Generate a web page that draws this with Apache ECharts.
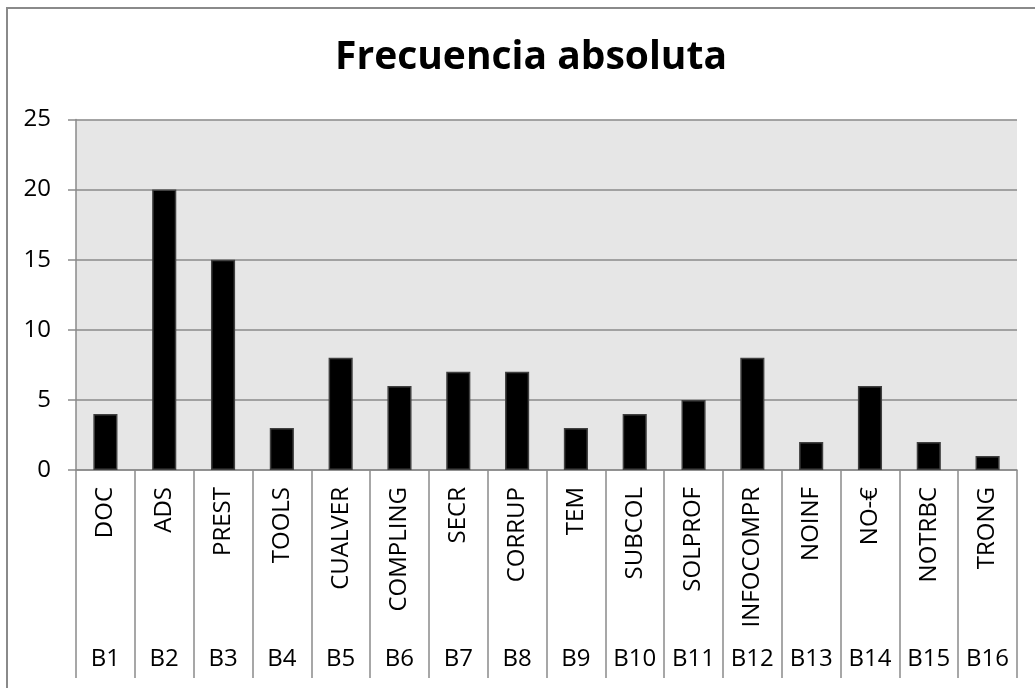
<!DOCTYPE html>
<html>
<head>
<meta charset="utf-8">
<script src="https://cdn.jsdelivr.net/npm/echarts@6/dist/echarts.min.js"></script>
<style>html,body{margin:0;padding:0;background:#fff;}#c{width:1035px;height:688px;}</style>
</head>
<body>
<div id="c"></div>
<script>
const titleText = 'Frecuencia absoluta';
const categories = ['DOC','ADS','PREST','TOOLS','CUALVER','COMPLING','SECR','CORRUP','TEM','SUBCOL','SOLPROF','INFOCOMPR','NOINF','NO-€','NOTRBC','TRONG'];
const groups = ['B1','B2','B3','B4','B5','B6','B7','B8','B9','B10','B11','B12','B13','B14','B15','B16'];
const values = [4,20,15,3,8,6,7,7,3,4,5,8,2,6,2,1];
const yTicks = { min: 0, max: 25, interval: 5 };

const FONT = 'Open Sans';
const chart = echarts.init(document.getElementById('c'), null, {renderer: 'canvas'});
chart.setOption({
  animation: false,
  backgroundColor: '#ffffff',
  textStyle: { fontFamily: FONT },
  title: {
    text: titleText, left: 526, top: 33, textAlign: 'center',
    textStyle: { fontFamily: FONT, fontWeight: 'bold', fontSize: 39, color: '#000' }
  },
  graphic: [{
    type: 'rect', silent: true, z: 100,
    shape: { x: 7, y: 8, width: 1200, height: 900 },
    style: { fill: 'none', stroke: '#8a8a8a', lineWidth: 2 }
  }],
  grid: {
    left: 76, right: 18, top: 119.5, bottom: 218,
    show: true, backgroundColor: '#E6E6E6', borderWidth: 0
  },
  xAxis: [{
    type: 'category', data: categories, position: 'bottom',
    axisLine: { show: true, lineStyle: { color: '#8a8a8a', width: 1.5 } },
    axisTick: { show: true, alignWithLabel: false, length: 208, lineStyle: { color: '#8a8a8a', width: 1.5 } },
    axisLabel: { rotate: 90, margin: 17, fontSize: 24, color: '#000', fontFamily: FONT, interval: 0 },
    splitLine: { show: false }
  }, {
    type: 'category', data: groups, position: 'bottom', offset: 169,
    axisLine: { show: false }, axisTick: { show: false },
    axisLabel: { margin: 8, fontSize: 24, color: '#000', fontFamily: FONT, interval: 0 },
    splitLine: { show: false }
  }],
  yAxis: {
    type: 'value', min: yTicks.min, max: yTicks.max, interval: yTicks.interval,
    axisLine: { show: true, lineStyle: { color: '#8a8a8a', width: 1.5 } },
    axisTick: { show: true, length: 8, lineStyle: { color: '#8a8a8a', width: 1.5 } },
    axisLabel: { margin: 25, fontSize: 24, color: '#000', fontFamily: FONT },
    splitLine: { show: true, lineStyle: { color: '#8a8a8a', width: 1.5 } }
  },
  series: [{
    type: 'bar', data: values, xAxisIndex: 0, barWidth: '41%',
    itemStyle: { color: '#000', borderColor: '#404040', borderWidth: 1.5 }
  }]
});
</script>
</body>
</html>
